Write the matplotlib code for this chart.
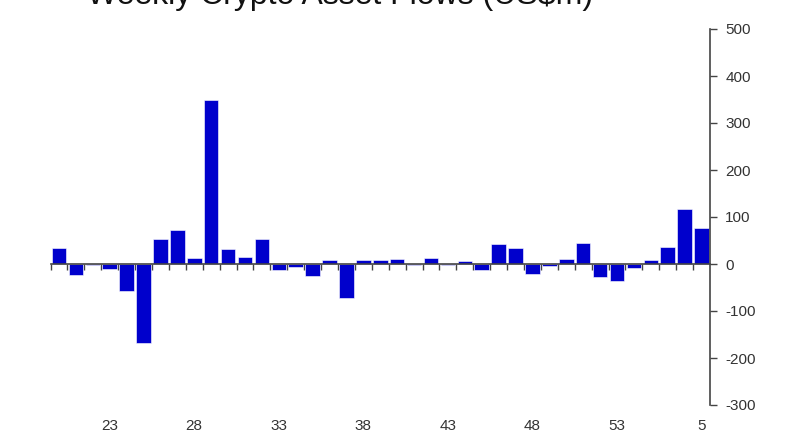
import numpy as np
import matplotlib
matplotlib.use("Agg")
import matplotlib.pyplot as plt

# week numbers (2020 wk 20 .. 2021 wk 5)
weeks = list(range(20, 54)) + list(range(1, 6))
flows = [35, -24, -3, -10, -58, -169, 54, 72, 12, 348, 31, 14, 53,
         -12, -7, -26, 9, -72, 9, 8, 10, -3, 13, -3, 7, -13, 42, 33,
         -21, -5, 10, 44, -27, -36, -9, 9, 37, 117, 76]
label_weeks = [23, 28, 33, 38, 43, 48, 53, 5]
y_ticks = [-300, -200, -100, 0, 100, 200, 300, 400, 500]

plt.rcParams['font.family'] = ['Liberation Sans Narrow', 'Liberation Sans', 'DejaVu Sans']

fig = plt.figure(figsize=(8, 4.45), dpi=100)
ax = fig.add_axes([50.5 / 800, 40 / 445, (710 - 50.5) / 800, (405 - 29) / 445])

x = np.arange(len(weeks))
ax.bar(x, flows, width=0.86, color='#0000cc', edgecolor='white', linewidth=0.4, zorder=2)

ax.set_xlim(-0.5, len(weeks) - 0.5)
ax.set_ylim(-300, 500)

# right hand value axis
ax.yaxis.tick_right()
ax.set_yticks(y_ticks)
ax.set_yticklabels([str(v) for v in y_ticks], fontsize=11, color='#333333')
ax.tick_params(axis='y', direction='out', length=5, width=1, color='#444444', pad=6)
for s in ['left', 'top']:
    ax.spines[s].set_visible(False)
ax.spines['right'].set_color('#444444')
ax.spines['right'].set_linewidth(1.2)

# category axis along zero line with ticks between bars
ax.spines['bottom'].set_position(('data', 0))
ax.spines['bottom'].set_color('#444444')
ax.spines['bottom'].set_linewidth(1.2)
ax.spines['bottom'].set_zorder(3)
ax.set_xticks(np.arange(len(weeks)) - 0.5, minor=True)
ax.set_xticks([])
ax.tick_params(axis='x', which='minor', direction='out', length=4, width=1, color='#444444')

# week labels at bottom of plot
sec = ax.secondary_xaxis('bottom')
pos = [weeks.index(w) if w != 5 else len(weeks) - 1 for w in label_weeks]
sec.set_xticks(pos)
sec.set_xticklabels([str(w) for w in label_weeks], fontsize=11, color='#333333')
sec.tick_params(length=0, pad=10)
sec.spines['bottom'].set_visible(False)

fig.text(340 / 800, 1 - 4 / 445, 'Weekly Crypto Asset Flows (US$m)', ha='center',
         va='baseline', fontsize=23, family=['Liberation Sans', 'DejaVu Sans'], color='#111111')

fig.savefig('out.png', dpi=100)
